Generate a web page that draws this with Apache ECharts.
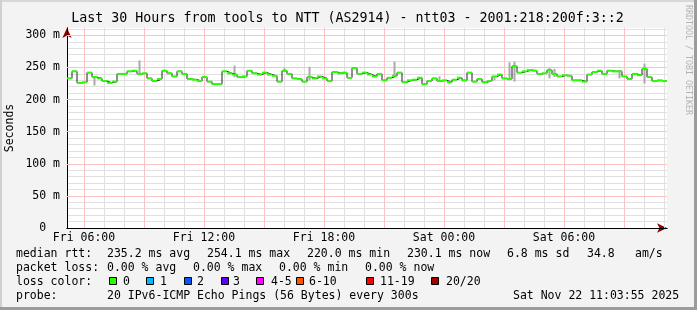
<!DOCTYPE html>
<html><head><meta charset="utf-8">
<script src="https://cdn.jsdelivr.net/npm/echarts@6/dist/echarts.min.js"></script>
<style>html,body{margin:0;padding:0;background:#f3f3f3}#c{width:697px;height:310px}</style>
</head><body><div id="c"></div>
<script>
// ---------- data ----------
const titleText = 'Last 30 Hours from tools to NTT (AS2914) - ntt03 - 2001:218:200f:3::2';
const yAxisName = 'Seconds';
const watermark = 'RRDTOOL / TOBI OETIKER';
const startMinutes = 309;   // Fri 05:09, minutes since Fri 00:00
const slotMinutes = 3;      // time axis resolution
const slotCount = 601;      // 30 hours
const stepSlots = 5;        // one median value per 15 minutes
const yMax = 311.5;
const dayNames = ['Fri', 'Sat'];

// median rtt in ms, one value per 15 minutes
const median = [
  233, 244, 226, 227, 242, 235, 233, 229, 226, 228, 240, 240, 244, 245, 240, 241, 233, 229, 232, 245, 241, 236, 244, 240,
  232, 231, 229, 235, 228, 224, 224, 244, 241, 239, 235, 236, 245, 241, 239, 242, 239, 237, 228, 245, 240, 233, 232, 228,
  235, 233, 236, 233, 229, 243, 241, 242, 234, 249, 240, 242, 239, 236, 240, 230, 234, 237, 242, 227, 230, 231, 234, 224,
  229, 233, 229, 230, 227, 231, 234, 230, 242, 228, 232, 227, 229, 236, 239, 233, 232, 252, 242, 244, 246, 245, 240, 241,
  246, 240, 236, 238, 237, 230, 230, 228, 239, 243, 245, 240, 245, 244, 244, 236, 232, 240, 238, 248, 235, 229, 230, 229
];
// visible smoke (ping spread) at a few steps
const smokeIdx = [5, 14, 33, 43, 48, 65, 74, 85, 88, 89, 96, 97, 110, 115];
const smokeLo  = [222, 238, 235, 243, 230, 238, 229, 230, 230, 228, 233, 235, 233, 225];
const smokeHi  = [236, 261, 253, 249, 251, 259, 236, 237, 258, 259, 249, 248, 246, 256];

const rttStats  = ['235.2 ms avg', '254.1 ms max', '220.0 ms min', '230.1 ms now', '6.8 ms sd', '34.8', 'am/s'];
const lossStats = ['0.00 % avg', '0.00 % max', '0.00 % min', '0.00 % now'];
const lossLabels = ['0', '1', '2', '3', '4-5', '6-10', '11-19', '20/20'];
const lossColors = ['#26ff00', '#00b8ff', '#0059ff', '#5e00ff', '#ff00ff', '#ff5500', '#ff0000', '#a10000'];
const probeText = '20 IPv6-ICMP Echo Pings (56 Bytes) every 300s';
const stampText = 'Sat Nov 22 11:03:55 2025';

// ---------- build ----------
const FONT = 'DejaVu Sans Mono';
function pad(n){ return (n < 10 ? '0' : '') + n; }
function minutesAt(k){ return startMinutes + k * slotMinutes; }
const categories = [];
for (let k = 0; k < slotCount; k++) {
  const m = minutesAt(k);
  categories.push(dayNames[Math.floor(m / 1440)] + ' ' + pad(Math.floor((m % 1440) / 60)) + ':' + pad(m % 60));
}
const isHour = (k) => minutesAt(k) % 60 === 0;
const isThreeHour = (k) => minutesAt(k) % 180 === 0;
const isSixHour = (k) => minutesAt(k) % 360 === 0;

const lineData = median.map((v, i) => [i * stepSlots, v]);
lineData.push([median.length * stepSlots, median[median.length - 1]]);
const greenData = median.map((v, i) => [i * stepSlots, v]);
const smokeData = smokeIdx.map((i, k) => [i * stepSlots, smokeLo[k], smokeHi[k]]);

function yLabel(v){
  if (Math.abs(v / 50 - Math.round(v / 50)) > 1e-6) return '';
  return v === 0 ? '0  ' : v + ' m';
}

const graphic = [];
function txt(x, y, s){
  graphic.push({type: 'text', x: x, y: y, silent: true,
    style: {text: s, font: '11.5px "' + FONT + '"', fill: '#000', textVerticalAlign: 'middle'}});
}
// frame
graphic.push({type:'rect', shape:{x:0,y:0,width:697,height:2}, style:{fill:'#d8d8d8'}, silent:true});
graphic.push({type:'rect', shape:{x:0,y:0,width:2,height:310}, style:{fill:'#d0d0d0'}, silent:true});
graphic.push({type:'rect', shape:{x:694,y:0,width:3,height:310}, style:{fill:'#9c9c9c'}, silent:true});
graphic.push({type:'rect', shape:{x:0,y:307,width:697,height:3}, style:{fill:'#9c9c9c'}, silent:true});
graphic.push({type:'text', x:347.5, y:19, silent:true,
  style:{text:titleText, font:'13.3px "' + FONT + '"', fill:'#000', textAlign:'center', textVerticalAlign:'middle'}});
graphic.push({type:'text', x:10, y:128, rotation:Math.PI/2, silent:true,
  style:{text:yAxisName, font:'11.5px "' + FONT + '"', fill:'#000', textAlign:'center', textVerticalAlign:'middle'}});
graphic.push({type:'text', x:688, y:60, rotation:-Math.PI/2, silent:true,
  style:{text:watermark, font:'8.3px "' + FONT + '"', fill:'#b4b4b4', textAlign:'center', textVerticalAlign:'middle'}});

const rowY = [254, 268, 282, 296];
const rttX = [107, 207, 307, 407, 507, 587, 635];
const lossX = [107, 193, 279, 365];
const boxX = [109, 146, 184, 221, 256, 296, 366, 431];
const boxTextX = [123, 160, 197, 233, 271, 309, 380, 446];
txt(16, rowY[0], 'median rtt:');
rttStats.forEach((s, i) => txt(rttX[i], rowY[0], s));
txt(16, rowY[1], 'packet loss:');
lossStats.forEach((s, i) => txt(lossX[i], rowY[1], s));
txt(16, rowY[2], 'loss color:');
lossLabels.forEach((s, i) => {
  graphic.push({type:'rect', silent:true, shape:{x:boxX[i] + 0.5, y:rowY[2] - 4.5, width:7, height:7},
    style:{fill:lossColors[i], stroke:'#000', lineWidth:1}});
  txt(boxTextX[i], rowY[2], s);
});
txt(16, rowY[3], 'probe:');
txt(107, rowY[3], probeText);
txt(513, rowY[3], stampText);

const grayGrid = '#e0e0e0';
const pinkGrid = '#f9c3c3';
const baseCat = {type:'category', position:'bottom', data:categories, boundaryGap:false,
  axisTick:{show:false}, axisLabel:{show:false}, axisLine:{show:false}};

const option = {
  animation: false,
  backgroundColor: '#f3f3f3',
  grid: {left:67, top:28, width:600, height:200, show:true, backgroundColor:'#ffffff', borderWidth:0},
  xAxis: [
    Object.assign({}, baseCat, { z:1,
      splitLine:{show:true, interval:(i) => isHour(i) && !isThreeHour(i),
        lineStyle:{color:grayGrid, width:1}} }),
    Object.assign({}, baseCat, { z:1,
      splitLine:{show:true, interval:(i) => isThreeHour(i),
        lineStyle:{color:pinkGrid, width:1}} }),
    Object.assign({}, baseCat, { z:0,
      axisLine:{show:true, onZero:false, symbol:['none','arrow'], symbolSize:[7,10], lineStyle:{color:'#8b0000', width:1}},
      splitLine:{show:false} }),
    Object.assign({}, baseCat, { z:2,
      axisLine:{show:true, onZero:false, lineStyle:{color:'#000', width:1}},
      axisLabel:{show:true, interval:(i) => isSixHour(i), fontFamily:FONT, fontSize:11.5, color:'#000', margin:4},
      splitLine:{show:false} })
  ],
  yAxis: [{
    type:'value', position:'left', min:0, max:yMax, interval:10, z:1,
    axisLine:{show:true, onZero:false, lineStyle:{color:'#000', width:1}},
    axisTick:{show:false},
    axisLabel:{show:true, formatter:yLabel, fontFamily:FONT, fontSize:11.5, color:'#000', margin:7, showMaxLabel:false},
    splitLine:{show:true, showMinLine:false, showMaxLine:false, lineStyle:{color:grayGrid, width:1}}
  }, {
    type:'value', position:'left', min:0, max:yMax, interval:50, z:2,
    axisLine:{show:false}, axisTick:{show:false}, axisLabel:{show:false},
    splitLine:{show:true, showMinLine:false, showMaxLine:false, lineStyle:{color:pinkGrid, width:1}}
  }, {
    type:'value', position:'left', min:0, max:yMax, z:0,
    axisLine:{show:true, onZero:false, symbol:['none','arrow'], symbolSize:[7,10], lineStyle:{color:'#8b0000', width:1}},
    axisTick:{show:false}, axisLabel:{show:false}, splitLine:{show:false}
  }],
  graphic: graphic,
  series: [
    { type:'custom', name:'smoke', xAxisIndex:0, yAxisIndex:0, z:3, silent:true,
      encode:{x:0, y:[1,2]}, data: smokeData,
      renderItem: function(params, api){
        const p1 = api.coord([api.value(0), api.value(2)]);
        const p2 = api.coord([api.value(0), api.value(1)]);
        return {type:'rect', shape:{x:p1[0] + 1.5, y:p1[1], width:2, height:p2[1]-p1[1]},
          style:{fill:'#a9a9a9'}};
      }
    },
    { type:'line', name:'median', xAxisIndex:0, yAxisIndex:0, z:4, step:'end', symbol:'none', silent:true,
      data: lineData, lineStyle:{color:'#202020', width:1} },
    { type:'custom', name:'loss0', xAxisIndex:0, yAxisIndex:0, z:5, silent:true,
      encode:{x:0, y:1}, data: greenData,
      renderItem: function(params, api){
        const p1 = api.coord([api.value(0), api.value(1)]);
        const p2 = api.coord([api.value(0) + stepSlots, api.value(1)]);
        return {type:'rect', shape:{x:p1[0], y:p1[1]-1, width:p2[0]-p1[0], height:2},
          style:{fill:lossColors[0]}};
      }
    }
  ]
};
const chart = echarts.init(document.getElementById('c'), null, {renderer:'canvas'});
chart.setOption(option);
</script></body></html>
